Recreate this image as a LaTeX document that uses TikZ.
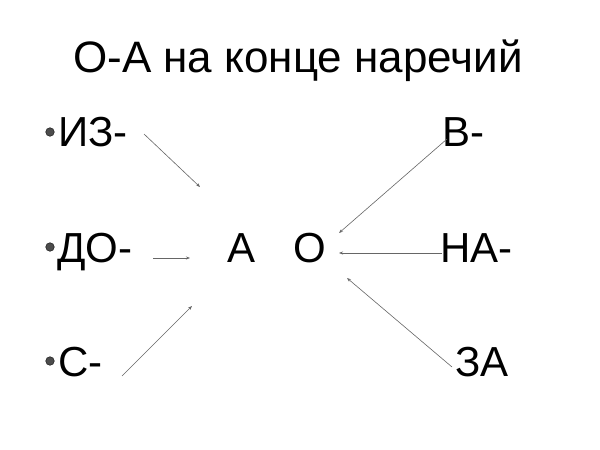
\documentclass[tikz,border=0pt]{standalone}
\usepackage{fontspec}
\setmainfont{Liberation Sans}
\usetikzlibrary{arrows.meta}
\tikzset{
  lbl/.style={inner sep=0pt, anchor=base west, font=\fontsize{42}{46}\selectfont, text=black},
  ttl/.style={inner sep=0pt, anchor=base, font=\fontsize{44}{48}\selectfont, text=black},
  arr/.style={draw=gray!80!black, line width=0.6pt, -{Stealth[length=4pt,width=3pt]}},
  bul/.style={circle, fill=black!70, draw=black!85, line width=0.6pt, inner sep=0pt, minimum size=8.5pt}
}
\begin{document}
\begin{tikzpicture}[x=1pt,y=-1pt]
\useasboundingbox (0,0) rectangle (600,450);
\fill[white] (0,0) rectangle (600,450);
\node[ttl] (title) at (298,72) {О-А на конце наречий};
% bullets
\node[bul] (b1) at (50,132) {};
\node[bul] (b2) at (50,247) {};
\node[bul] (b3) at (50,361) {};
% left labels
\node[lbl] (iz) at (58,146) {ИЗ-};
\node[lbl] (do) at (57,262) {ДО-};
\node[lbl] (s) at (58,376) {С-};
% center
\node[lbl] (A) at (227,262) {А};
\node[lbl] (O) at (293,262) {О};
% right labels
\node[lbl] (v) at (442,146) {В-};
\node[lbl] (na) at (440,262) {НА-};
\node[lbl] (za) at (455,376) {ЗА};
% arrow endpoints
\coordinate (iz1) at (144,134);
\coordinate (iz2) at (200,187);
\coordinate (do1) at (153,258);
\coordinate (do2) at (190,258);
\coordinate (s1) at (122,376);
\coordinate (s2) at (192,306);
\coordinate (v1) at (447,139);
\coordinate (v2) at (339,233);
\coordinate (na1) at (442,253);
\coordinate (na2) at (339,253);
\coordinate (za1) at (452,367);
\coordinate (za2) at (347,278);
\draw[arr] (iz1) -- (iz2);
\draw[arr] (do1) -- (do2);
\draw[arr] (s1) -- (s2);
\draw[arr] (v1) -- (v2);
\draw[arr] (na1) -- (na2);
\draw[arr] (za1) -- (za2);
\end{tikzpicture}
\end{document}
